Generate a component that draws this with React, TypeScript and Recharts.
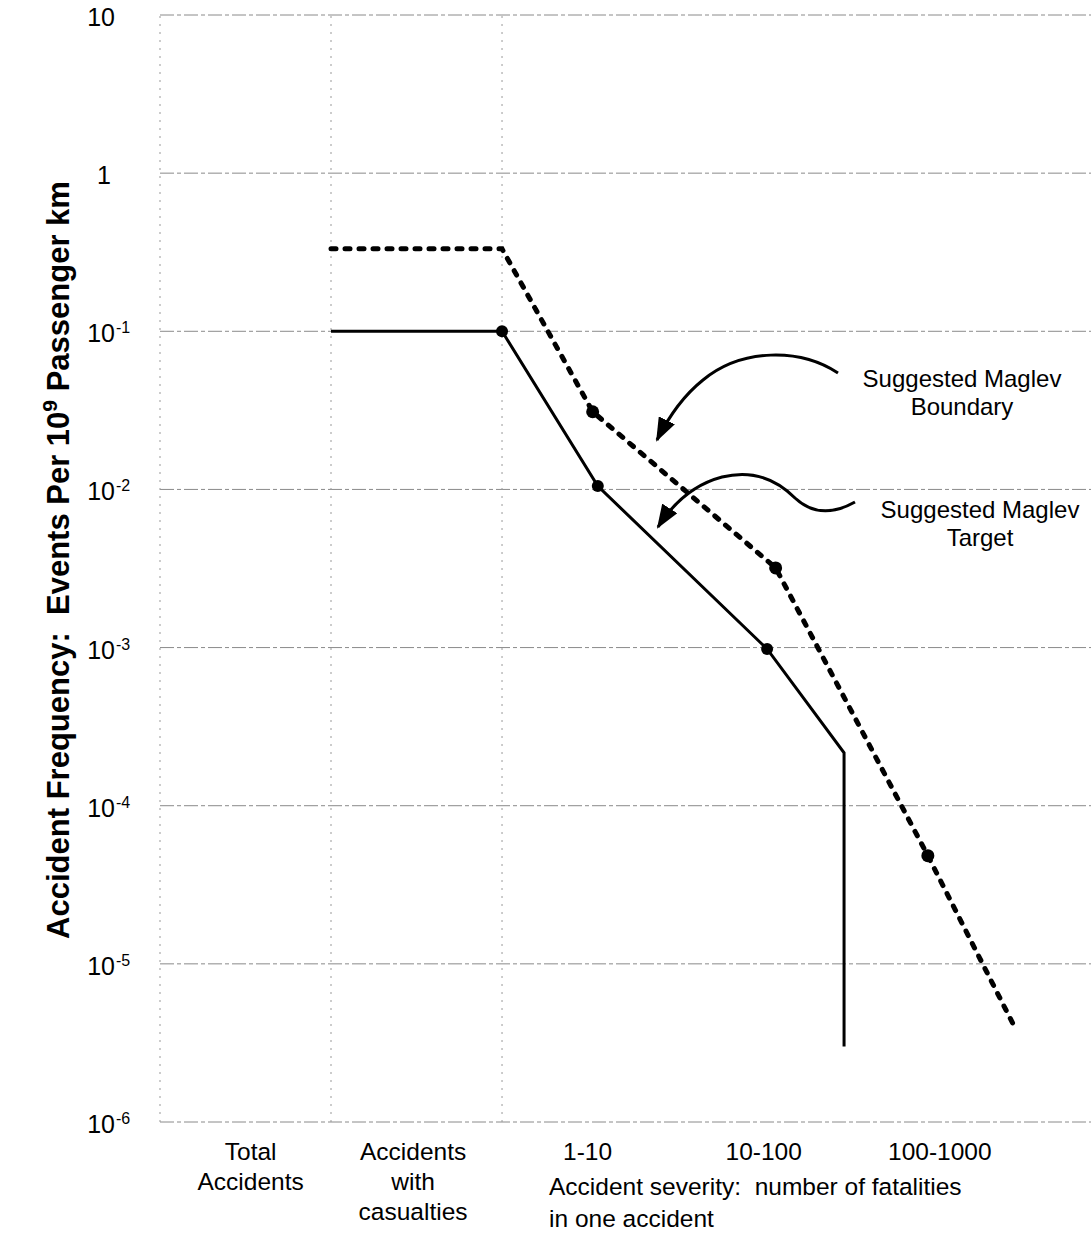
import React from 'react';
import { LineChart, Line, XAxis, YAxis, CartesianGrid, ReferenceLine } from 'recharts';

// Accident frequency (events per 10^9 passenger km) against severity class
const decadeTicks = [1e-6, 1e-5, 1e-4, 1e-3, 1e-2, 1e-1, 1, 10];
const categoryLabels = [['Total', 'Accidents'], ['Accidents', 'with', 'casualties'], ['1-10'], ['10-100'], ['100-1000']];
const categoryPos = [0.53, 1.48, 2.5, 3.53, 4.56];
const severityBoundaries = [0, 1, 2];

// solid line: suggested maglev target
const targetX = [1.0, 2.0, 2.56, 3.55, 4.0, 4.0];
const targetY = [0.1, 0.1, 0.0105, 0.00098, 2.16e-4, 3.0e-6];
const targetMarked = [1, 2, 3];

// dashed line: suggested maglev boundary
const boundaryX = [1.0, 2.0, 2.53, 3.6, 4.49, 4.99];
const boundaryY = [0.332, 0.332, 0.031, 0.00319, 4.83e-5, 4.13e-6];
const boundaryMarked = [2, 3, 4];

const targetData = targetX.map((x, i) => ({ x, y: targetY[i] }));
const boundaryData = boundaryX.map((x, i) => ({ x, y: boundaryY[i] }));

const FONT = '"Liberation Sans", Arial, Helvetica, sans-serif';
const W = 1091;
const H = 1243;
const PLOT_BOTTOM = 1122;

const YTick = (props: any) => {
  const { y, payload } = props;
  const e = Math.round(Math.log10(payload.value));
  const base = e === 0 ? '1' : '10';
  return (
    <g>
      <text x={e === 0 ? 111 : 115} y={y + 11} textAnchor="end" fontSize={25} fontFamily={FONT} fill="#000">
        {base}
      </text>
      {e !== 0 && e !== 1 && (
        <text x={116} y={y + 2} fontSize={16} fontFamily={FONT} fill="#000">
          {e}
        </text>
      )}
    </g>
  );
};

const XTick = (props: any) => {
  const { x, index } = props;
  const lines = categoryLabels[index] || [];
  return (
    <text x={x} y={PLOT_BOTTOM + 38} textAnchor="middle" fontSize={24.5} fontFamily={FONT} fill="#000">
      {lines.map((l, i) => (
        <tspan key={i} x={x} dy={i === 0 ? 0 : 30}>
          {l}
        </tspan>
      ))}
    </text>
  );
};

const markedDot = (marked: number[], r: number) => (props: any) => {
  const { cx, cy, index } = props;
  if (!marked.includes(index)) return <g key={`d-${index}`} />;
  return <circle key={`d-${index}`} cx={cx} cy={cy} r={r} fill="#000" />;
};

const Overlay = () => (
  <svg width={W} height={H} style={{ position: 'absolute', left: 0, top: 0, pointerEvents: 'none' }}>
    <defs>
      <marker id="head" viewBox="0 0 24 18" refX="22" refY="9" markerWidth="24" markerHeight="18" markerUnits="userSpaceOnUse" orient="auto">
        <path d="M0,0 L24,9 L0,18 Z" fill="#000" />
      </marker>
    </defs>
    <text transform="translate(69,560) rotate(-90)" textAnchor="middle" fontSize={31} fontWeight="bold" fontFamily={FONT} fill="#000">
      Accident Frequency:{'\u00a0\u00a0'}Events Per 10<tspan dy={-12} fontSize={21}>9</tspan>
      <tspan dy={12}> Passenger km</tspan>
    </text>
    <text x={549} y={1195} fontSize={24.5} fontFamily={FONT} fill="#000">
      Accident severity:{'\u00a0\u00a0'}number of fatalities
    </text>
    <text x={549} y={1227} fontSize={24.5} fontFamily={FONT} fill="#000">
      in one accident
    </text>

    <path d="M838,373 C800,348 742,348 703,380 C683,396 668,418 657,440" fill="none" stroke="#000" strokeWidth={3} markerEnd="url(#head)" />
    <text x={962} y={387} textAnchor="middle" fontSize={24} fontFamily={FONT} fill="#000">
      Suggested Maglev
    </text>
    <text x={962} y={415} textAnchor="middle" fontSize={24} fontFamily={FONT} fill="#000">
      Boundary
    </text>

    <path d="M855,502 C830,516 810,512 795,498 C775,478 750,470 722,477 C692,485 672,505 658,527" fill="none" stroke="#000" strokeWidth={3} markerEnd="url(#head)" />
    <text x={980} y={518} textAnchor="middle" fontSize={24} fontFamily={FONT} fill="#000">
      Suggested Maglev
    </text>
    <text x={980} y={546} textAnchor="middle" fontSize={24} fontFamily={FONT} fill="#000">
      Target
    </text>
  </svg>
);

export default function App() {
  return (
    <div style={{ position: 'absolute', left: 0, top: 0, width: W, height: H, background: '#fff' }}>
      <LineChart width={W} height={H} margin={{ top: 15, right: 0, bottom: 0, left: 0 }}>
        <CartesianGrid vertical={false} stroke="#8a8a8a" strokeDasharray="14 3 4 3" />
        <XAxis
          type="number"
          dataKey="x"
          domain={[0, 5.444]}
          ticks={categoryPos}
          allowDataOverflow
          axisLine={false}
          tickLine={false}
          height={121}
          tick={<XTick />}
          interval={0}
        />
        <YAxis
          type="number"
          scale="log"
          domain={[1e-6, 10]}
          ticks={decadeTicks}
          allowDataOverflow
          axisLine={false}
          tickLine={false}
          width={160}
          tick={<YTick />}
          interval={0}
        />
        {severityBoundaries.map((b) => (
          <ReferenceLine key={b} x={b} stroke="#999" strokeDasharray="2 6" />
        ))}
        <Line
          data={targetData}
          dataKey="y"
          type="linear"
          stroke="#000"
          strokeWidth={3}
          dot={markedDot(targetMarked, 6)}
          activeDot={false}
          isAnimationActive={false}
        />
        <Line
          data={boundaryData}
          dataKey="y"
          type="linear"
          stroke="#000"
          strokeWidth={5}
          strokeDasharray="5 9"
          strokeLinecap="round"
          dot={markedDot(boundaryMarked, 6.5)}
          activeDot={false}
          isAnimationActive={false}
        />
      </LineChart>
      <Overlay />
    </div>
  );
}
